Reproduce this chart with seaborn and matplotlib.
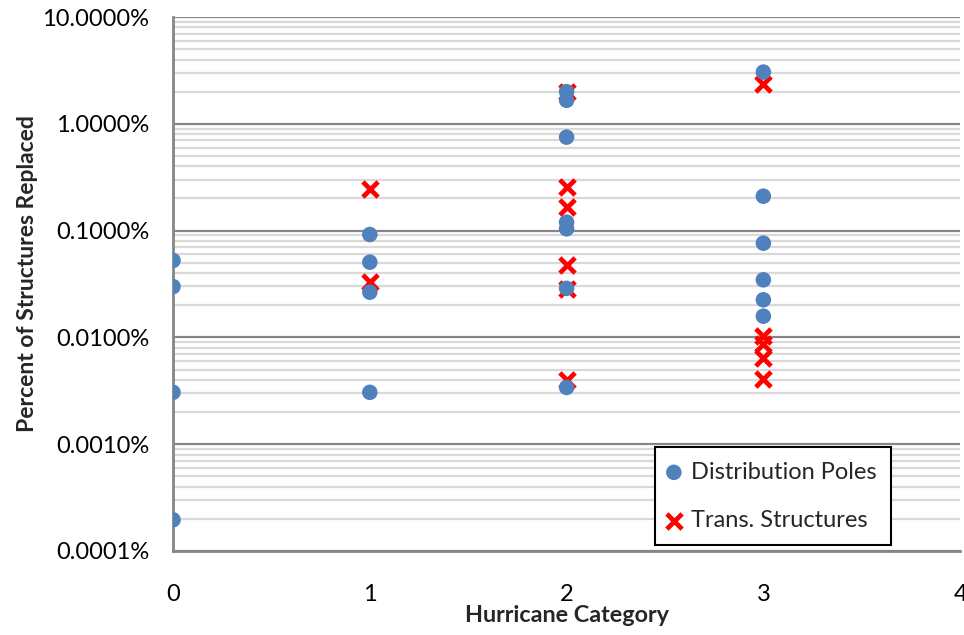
import numpy as np
import pandas as pd
import matplotlib
matplotlib.use("Agg")
import matplotlib.pyplot as plt
import seaborn as sns
from matplotlib.ticker import LogLocator, FuncFormatter, NullFormatter

# ---- data (percent of structures replaced) ----
pole_cat = [0, 0, 0, 0,
            1, 1, 1, 1,
            2, 2, 2, 2, 2, 2, 2,
            3, 3, 3, 3, 3, 3]
pole_val = [0.0525, 0.0299, 0.00306, 0.000196,
            0.0919, 0.0506, 0.0265, 0.00306,
            2.0, 1.66, 0.75, 0.12, 0.104, 0.0288, 0.0034,
            3.05, 0.21, 0.0762, 0.0346, 0.0225, 0.0158]

trans_cat = [1, 1,
             2, 2, 2, 2, 2, 2,
             3, 3, 3, 3, 3]
trans_val = [0.243, 0.0328,
             2.0, 0.255, 0.166, 0.0481, 0.0282, 0.0040,
             2.38, 0.0104, 0.0086, 0.0064, 0.0041]

series_names = ["Distribution Poles", "Trans. Structures"]
x_label = "Hurricane Category"
y_label = "Percent of Structures Replaced"

poles = pd.DataFrame({"cat": pole_cat, "val": pole_val})
trans = pd.DataFrame({"cat": trans_cat, "val": trans_val})

sns.set_style("white")
plt.rcParams["font.family"] = ["Lato", "DejaVu Sans"]

fig = plt.figure(figsize=(9.64, 6.35), dpi=100)
ax = fig.add_axes([0.1795, 0.1323, 0.8165, 0.8409])

sns.scatterplot(data=trans, x="cat", y="val", ax=ax, marker="x", s=120,
                color="#FF0000", linewidth=3.4, label=series_names[1], zorder=3)
sns.scatterplot(data=poles, x="cat", y="val", ax=ax, marker="o", s=125,
                color="#4F81BD", edgecolor="none", label=series_names[0], zorder=4)

ax.set_yscale("log")
ax.set_ylim(0.0001, 10)
ax.set_xlim(0, 4)
ax.set_xticks([0, 1, 2, 3, 4])
ax.yaxis.set_major_locator(LogLocator(base=10, numticks=10))
ax.yaxis.set_minor_locator(LogLocator(base=10, subs=np.arange(2, 10), numticks=50))
ax.yaxis.set_major_formatter(FuncFormatter(lambda v, p: f"{v:.4f}%"))
ax.yaxis.set_minor_formatter(NullFormatter())

ax.grid(True, which="major", axis="y", color="#868686", linewidth=1.6)
ax.grid(True, which="minor", axis="y", color="#D9D9D9", linewidth=1.6)
ax.grid(False, axis="x")
ax.set_axisbelow(True)

for s in ["top", "right"]:
    ax.spines[s].set_visible(False)
for s in ["left", "bottom"]:
    ax.spines[s].set_color("#868686")
    ax.spines[s].set_linewidth(2)

ax.tick_params(axis="both", which="major", direction="out", length=6, width=2,
               color="#868686", labelsize=17, labelcolor="black")
ax.tick_params(axis="x", pad=18)
ax.tick_params(axis="y", pad=11)
ax.tick_params(axis="y", which="minor", length=0)

ax.set_xlabel(x_label, fontsize=16.8, fontweight="bold", labelpad=0)
ax.set_ylabel(y_label, fontsize=16.5, fontweight="bold")
ax.yaxis.set_label_coords(-0.172, 0.52)

handles, labels = ax.get_legend_handles_labels()
order = [labels.index(series_names[0]), labels.index(series_names[1])]
leg = ax.legend([handles[i] for i in order], [labels[i] for i in order],
                loc="lower right", bbox_to_anchor=(0.912, 0.011), fontsize=17,
                frameon=True, fancybox=False, edgecolor="black", framealpha=1,
                handletextpad=0.53, borderpad=0.6, labelspacing=1.16,
                handlelength=0.4, borderaxespad=0)
leg.get_frame().set_linewidth(1.5)

fig.savefig("out.png", dpi=100)
